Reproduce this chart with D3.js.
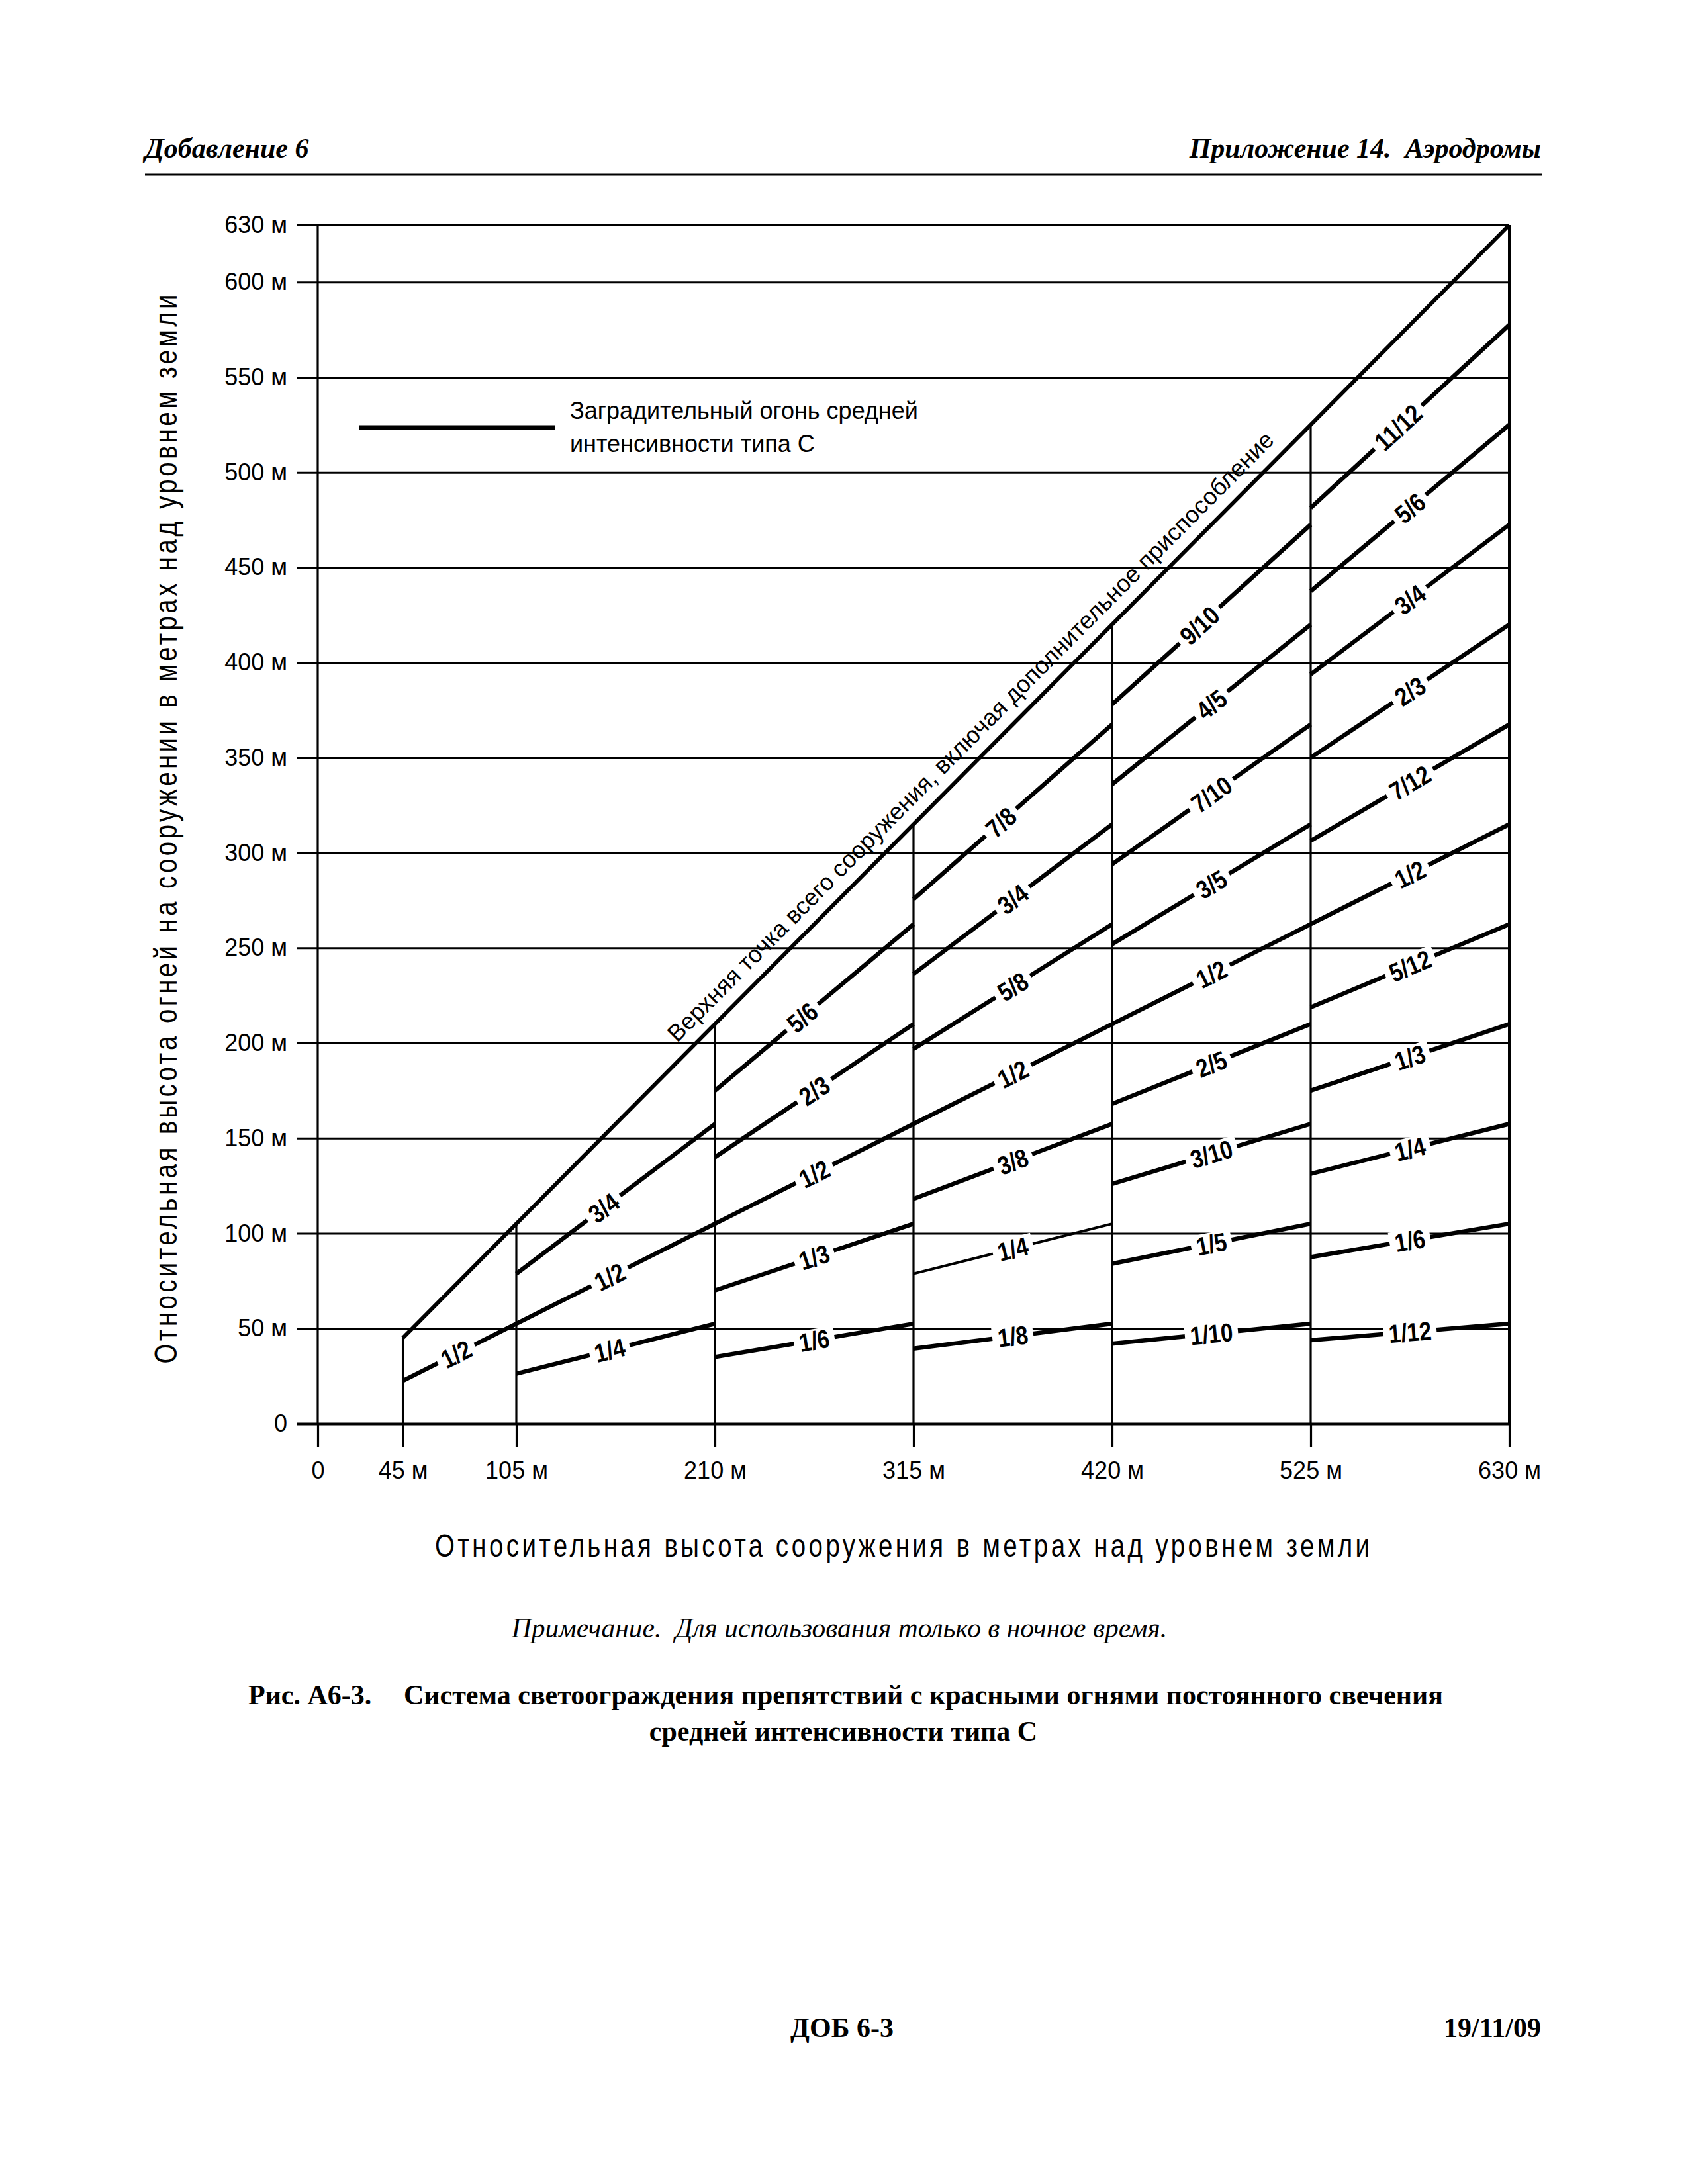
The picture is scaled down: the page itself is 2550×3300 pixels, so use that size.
<!DOCTYPE html>
<html>
<head>
<meta charset="utf-8">
<script src="https://cdn.jsdelivr.net/npm/d3@7"></script>
<style>
  body { margin: 0; background: #fff; }
  text { fill: #000; }
</style>
</head>
<body>
<div id="chart"></div>
<script>
// ---- data ----
const xTicks = [0, 45, 105, 210, 315, 420, 525, 630];
const xTickLabels = ["0", "45 м", "105 м", "210 м", "315 м", "420 м", "525 м", "630 м"];
const yTicks = [0, 50, 100, 150, 200, 250, 300, 350, 400, 450, 500, 550, 600, 630];
const yTickLabels = ["0", "50 м", "100 м", "150 м", "200 м", "250 м", "300 м", "350 м",
  "400 м", "450 м", "500 м", "550 м", "600 м", "630 м"];

// structure heights where the light pattern changes
const structureHeights = [45, 105, 210, 315, 420, 525, 630];
// top of structure line
const topLineX = [45, 630];
const topLineY = [45, 630];

const bandStart = [45, 105, 210, 315, 420, 525];
const bandEnd = [105, 210, 315, 420, 525, 630];
const bandLabels = [
  ["1/2"],
  ["3/4", "1/2", "1/4"],
  ["5/6", "2/3", "1/2", "1/3", "1/6"],
  ["7/8", "3/4", "5/8", "1/2", "3/8", "1/4", "1/8"],
  ["9/10", "4/5", "7/10", "3/5", "1/2", "2/5", "3/10", "1/5", "1/10"],
  ["11/12", "5/6", "3/4", "2/3", "7/12", "1/2", "5/12", "1/3", "1/4", "1/6", "1/12"]
];
// light height at the start / end of each band
const lightStart = [
  [22.5],
  [78.75, 52.5, 26.25],
  [175, 140, 105, 70, 35],
  [275.6, 236.3, 196.9, 157.5, 118.1, 78.75, 39.4],
  [378, 336, 294, 252, 210, 168, 126, 84, 42],
  [481.3, 437.5, 393.8, 350, 306.3, 262.5, 218.8, 175, 131.3, 87.5, 43.8]
];
const lightEnd = [
  [52.5],
  [157.5, 105, 52.5],
  [262.5, 210, 157.5, 105, 52.5],
  [367.5, 315, 262.5, 210, 157.5, 105, 52.5],
  [472.5, 420, 367.5, 315, 262.5, 210, 157.5, 105, 52.5],
  [577.5, 525, 472.5, 420, 367.5, 315, 262.5, 210, 157.5, 105, 52.5]
];

const topLabel = "Верхняя точка всего сооружения, включая дополнительное приспособление";
const legendLines = ["Заградительный огонь средней", "интенсивности типа С"];
const xTitle = "Относительная высота сооружения в метрах над уровнем земли";
const yTitle = "Относительная высота огней на сооружении в метрах над уровнем земли";

// ---- drawing ----
const W = 2550, H = 3300;
const sans = "'Liberation Sans', Arial, Helvetica, sans-serif";
const serif = "'Liberation Serif', 'Times New Roman', Times, serif";

const svg = d3.select("#chart").append("svg")
  .attr("width", W).attr("height", H)
  .style("background", "#fff");

svg.append("rect").attr("width", W).attr("height", H).attr("fill", "#fff");

const x = d3.scaleLinear().domain([0, 630]).range([480, 2280]);
const y = d3.scaleLinear().domain([0, 630]).range([2151, 340]);

// page header
svg.append("text")
  .attr("x", 219).attr("y", 238)
  .style("font-family", serif).style("font-size", "42px")
  .style("font-style", "italic").style("font-weight", "bold")
  .text("Добавление 6");
svg.append("text")
  .attr("x", 2328).attr("y", 238)
  .attr("text-anchor", "end")
  .style("font-family", serif).style("font-size", "42px")
  .style("font-style", "italic").style("font-weight", "bold")
  .style("white-space", "pre")
  .text("Приложение 14.  Аэродромы");
svg.append("line")
  .attr("x1", 219).attr("x2", 2330).attr("y1", 264).attr("y2", 264)
  .attr("stroke", "#000").attr("stroke-width", 3);

// horizontal gridlines + y labels
const yAxis = svg.append("g")
  .attr("transform", `translate(${x(630)},0)`)
  .call(d3.axisLeft(y).tickValues(yTicks).tickSize(x(630) - 448).tickPadding(14)
    .tickFormat((d, i) => yTickLabels[i]));
yAxis.select(".domain").remove();
yAxis.selectAll(".tick line")
  .attr("stroke", "#000")
  .attr("stroke-width", d => d === 0 ? 4 : 3);
yAxis.selectAll(".tick text")
  .style("font-family", sans).style("font-size", "36px").attr("fill", "#000");

// x ticks below the base line + labels
const xAxis = svg.append("g")
  .attr("transform", `translate(0,${y(0)})`)
  .call(d3.axisBottom(x).tickValues(xTicks).tickSize(36).tickPadding(21)
    .tickFormat((d, i) => xTickLabels[i]));
xAxis.select(".domain").remove();
xAxis.selectAll(".tick line").attr("stroke", "#000").attr("stroke-width", 3.2);
xAxis.selectAll(".tick text")
  .style("font-family", sans).style("font-size", "36px").attr("fill", "#000");

// left axis line
svg.append("line")
  .attr("x1", x(0)).attr("x2", x(0)).attr("y1", y(630)).attr("y2", y(0))
  .attr("stroke", "#000").attr("stroke-width", 3.2);

// structure height verticals
svg.append("g").selectAll("line")
  .data(structureHeights)
  .join("line")
  .attr("x1", d => x(d)).attr("x2", d => x(d))
  .attr("y1", y(0)).attr("y2", d => y(d))
  .attr("stroke", "#000")
  .attr("stroke-width", d => d === 630 ? 4 : 3.2);

// top of structure line
svg.append("line")
  .attr("x1", x(topLineX[0])).attr("y1", y(topLineY[0]))
  .attr("x2", x(topLineX[1])).attr("y2", y(topLineY[1]))
  .attr("stroke", "#000").attr("stroke-width", 6);

// light level segments
const segments = [];
bandStart.forEach((s, b) => {
  bandLabels[b].forEach((lab, i) => {
    segments.push({
      b, i, lab,
      x1: x(s), y1: y(lightStart[b][i]),
      x2: x(bandEnd[b]), y2: y(lightEnd[b][i])
    });
  });
});

svg.append("g").selectAll("line")
  .data(segments)
  .join("line")
  .attr("x1", d => d.x1).attr("y1", d => d.y1)
  .attr("x2", d => d.x2).attr("y2", d => d.y2)
  .attr("stroke", "#000")
  .attr("stroke-width", d => (d.b === 3 && d.lab === "1/4") ? 4 : 6.5);

// fraction labels sitting in a gap of their line
const labelG = svg.append("g");
segments.forEach(d => {
  const t = d.b < 2 ? (d.i === 0 && d.b === 1 ? 0.44 : 0.47) : (d.i === 0 ? 0.44 : 0.5);
  const px = d.x1 + (d.x2 - d.x1) * t;
  const py = d.y1 + (d.y2 - d.y1) * t;
  const ang = Math.atan2(d.y2 - d.y1, d.x2 - d.x1) * 180 / Math.PI;
  const g = labelG.append("g").attr("transform", `translate(${px},${py}) rotate(${ang})`);
  const rect = g.append("rect").attr("fill", "#fff");
  const txt = g.append("text")
    .attr("transform", "scale(0.85,1)")
    .attr("text-anchor", "middle")
    .attr("dy", "0.36em")
    .style("font-family", sans).style("font-size", "39px").style("font-weight", "bold")
    .text(d.lab);
  const w = txt.node().getComputedTextLength() * 0.85;
  rect.attr("x", -w / 2 - 8).attr("y", -17).attr("width", w + 16).attr("height", 34);
});

// label along the top line
const topAng = Math.atan2(y(630) - y(45), x(630) - x(45)) * 180 / Math.PI;
svg.append("text")
  .attr("transform", `translate(${x(195)},${y(195)}) rotate(${topAng})`)
  .attr("y", -20)
  .style("font-family", sans).style("font-size", "36px")
  .text(topLabel);

// legend
svg.append("line")
  .attr("x1", 542).attr("x2", 838).attr("y1", 646).attr("y2", 646)
  .attr("stroke", "#000").attr("stroke-width", 7);
svg.append("g").selectAll("text")
  .data(legendLines)
  .join("text")
  .attr("x", 861).attr("y", (d, i) => 633 + i * 50)
  .style("font-family", sans).style("font-size", "36px")
  .text(d => d);

// axis titles (condensed, tracked)
const cond = 0.8;
svg.append("text")
  .attr("transform", `translate(1363,2352) scale(${cond},1)`)
  .attr("text-anchor", "middle")
  .attr("textLength", 1412 / cond).attr("lengthAdjust", "spacing")
  .style("font-family", sans).style("font-size", "48px")
  .text(xTitle);
svg.append("text")
  .attr("transform", `translate(267,1253) rotate(-90) scale(${cond},1)`)
  .attr("text-anchor", "middle")
  .attr("textLength", 1615 / cond).attr("lengthAdjust", "spacing")
  .style("font-family", sans).style("font-size", "48px")
  .text(yTitle);

// note and caption
svg.append("text")
  .attr("x", 1268).attr("y", 2474)
  .attr("text-anchor", "middle")
  .style("font-family", serif).style("font-size", "41.5px").style("font-style", "italic")
  .style("white-space", "pre")
  .text("Примечание.  Для использования только в ночное время.");
svg.append("text")
  .attr("x", 375).attr("y", 2575)
  .style("font-family", serif).style("font-size", "42px").style("font-weight", "bold")
  .text("Рис. А6-3.");
svg.append("text")
  .attr("x", 610).attr("y", 2575)
  .style("font-family", serif).style("font-size", "42px").style("font-weight", "bold")
  .text("Система светоограждения препятствий с красными огнями постоянного свечения");
svg.append("text")
  .attr("x", 1274).attr("y", 2630)
  .attr("text-anchor", "middle")
  .style("font-family", serif).style("font-size", "42px").style("font-weight", "bold")
  .text("средней интенсивности типа С");

// footer
svg.append("text")
  .attr("x", 1272).attr("y", 3078)
  .attr("text-anchor", "middle")
  .style("font-family", serif).style("font-size", "42px").style("font-weight", "bold")
  .text("ДОБ 6-3");
svg.append("text")
  .attr("x", 2328).attr("y", 3078)
  .attr("text-anchor", "end")
  .style("font-family", serif).style("font-size", "42px").style("font-weight", "bold")
  .text("19/11/09");
</script>
</body>
</html>
